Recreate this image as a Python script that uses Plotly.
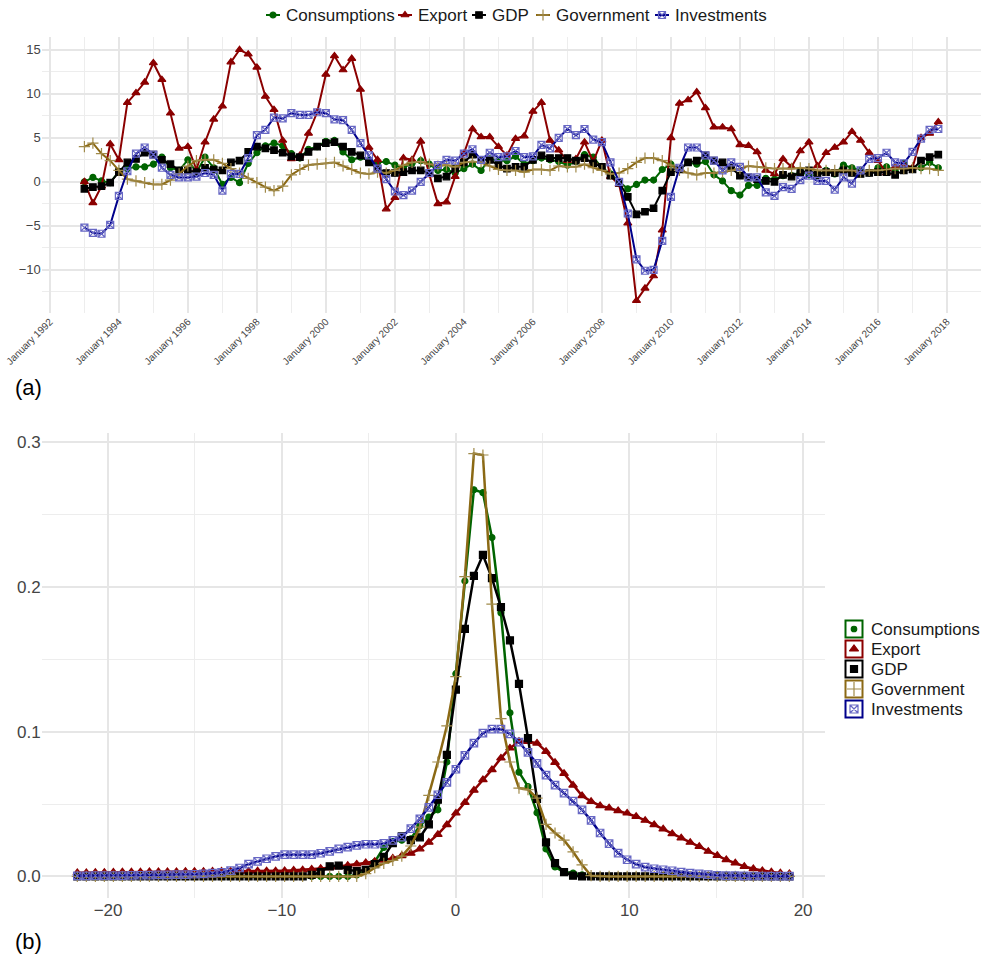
import numpy as np
import pandas as pd
import plotly.graph_objects as go

W, H = 983, 957

# ---------------------------------------------------------------- data
series_names = ["Consumptions", "Export", "GDP", "Government", "Investments"]

# quarterly growth rates (%), 1993Q1 .. 2017Q4
quarters = pd.date_range("1993-01-01", periods=100, freq="QS")

consumptions = [
    0.0, 0.5, 0.1, -0.1, 1.2, 1.5, 1.7, 1.7, 2.0, 2.8,
    1.6, 1.3, 2.5, 1.1, 2.8, 1.6, -0.3, 0.5, -0.1, 2.1,
    3.3, 4.1, 4.4, 4.1, 3.2, 2.7, 3.7, 4.0, 4.6, 4.7,
    3.4, 2.5, 2.8, 2.4, 2.2, 2.3, 1.9, 1.6, 2.1, 2.4,
    2.0, 1.3, 1.4, 1.0, 1.5, 2.0, 1.3, 2.6, 2.4, 2.4,
    2.9, 2.0, 2.4, 2.7, 2.5, 2.3, 1.9, 2.3, 3.1, 2.8,
    1.6, 0.9, 0.0, -0.8, -0.3, 0.2, 0.2, 1.4, 2.0, 1.4,
    2.2, 2.0, 2.3, 0.8, 0.1, -1.0, -1.5, -0.4, -0.4, 0.4,
    0.3, 0.7, 0.7, 1.1, 0.8, 0.7, 1.3, 0.9, 1.9, 1.6,
    1.3, 1.0, 1.6, 1.7, 1.3, 2.1, 1.5, 1.6, 2.2, 1.6,
]
export = [
    0.0, -2.4, -0.5, 4.3, 2.5, 9.0, 10.1, 11.3, 13.5, 11.6,
    7.8, 3.8, 4.0, 1.4, 4.5, 7.1, 8.6, 13.6, 15.0, 14.5,
    13.0, 9.7, 8.2, 4.7, 2.6, 3.0, 5.5, 7.9, 12.2, 14.3,
    12.7, 14.0, 10.5, 3.9, 2.5, -3.1, -1.8, 2.7, 2.5, 4.6,
    0.8, -2.5, -2.3, 0.6, 3.2, 6.0, 5.1, 5.1, 4.0, 3.0,
    4.9, 5.2, 8.0, 9.0, 4.7, 3.6, 2.4, 2.6, 4.5, 2.3,
    4.7, 0.6, -0.3, -4.7, -13.5, -12.1, -10.7, -5.5, 5.0, 8.9,
    9.3, 10.2, 8.4, 6.2, 6.2, 6.0, 4.2, 4.1, 3.4, 1.3,
    0.9, 2.6, 1.7, 3.5, 4.5, 1.8, 3.3, 3.9, 4.5, 5.7,
    4.7, 3.3, 2.4, 1.0, 1.7, 1.9, 1.6, 5.0, 5.5, 6.8,
]
gdp = [
    -0.8, -0.6, -0.5, -0.1, 1.1, 2.2, 2.6, 3.3, 3.1, 2.5,
    2.0, 1.3, 1.3, 1.1, 1.6, 1.4, 1.3, 2.2, 2.4, 3.4,
    4.0, 3.8, 3.6, 3.3, 2.9, 2.8, 3.4, 4.0, 4.4, 4.5,
    4.0, 3.4, 3.0, 2.2, 1.5, 1.0, 1.0, 1.1, 1.3, 1.3,
    1.0, 0.4, 0.6, 1.5, 2.2, 3.1, 2.5, 2.5, 1.9, 1.5,
    1.7, 1.7, 2.5, 3.0, 2.7, 2.7, 2.7, 2.4, 2.7, 2.1,
    1.7, 0.7, -0.1, -1.7, -3.7, -3.4, -3.0, -1.0, 1.1, 1.4,
    2.2, 2.4, 3.0, 2.4, 2.2, 1.6, 0.7, 0.5, 0.3, 0.1,
    0.0, 0.8, 0.6, 1.0, 1.3, 0.8, 1.1, 1.0, 1.3, 1.0,
    0.9, 1.0, 1.1, 1.1, 0.8, 1.3, 1.4, 2.4, 2.8, 3.1,
]
government = [
    4.0, 4.4, 3.2, 2.4, 1.3, 0.3, 0.1, -0.1, -0.3, -0.3,
    0.2, 0.9, 1.8, 2.4, 2.5, 2.5, 2.1, 1.5, 1.0, 0.4,
    -0.1, -0.6, -1.0, -0.5, 0.8, 1.4, 1.9, 2.0, 2.1, 2.2,
    1.8, 1.4, 1.0, 0.9, 1.1, 1.0, 1.3, 1.9, 2.2, 2.3,
    2.0, 1.8, 1.9, 1.7, 2.2, 2.3, 2.2, 1.8, 1.4, 1.3,
    1.3, 1.1, 1.4, 1.4, 1.3, 1.8, 1.7, 1.7, 2.0, 1.6,
    1.3, 0.9, 1.0, 1.5, 2.2, 2.7, 2.7, 2.4, 1.9, 1.3,
    1.0, 0.8, 1.0, 1.0, 1.1, 1.3, 1.5, 1.8, 1.7, 1.6,
    1.5, 1.5, 1.5, 1.6, 1.5, 1.3, 1.3, 1.3, 1.3, 1.3,
    1.1, 1.3, 1.3, 1.4, 1.5, 1.5, 1.6, 1.5, 1.5, 1.3,
]
investments = [
    -5.2, -5.8, -5.9, -4.9, -1.6, 1.2, 3.2, 3.9, 3.1, 1.6,
    0.8, 0.5, 0.5, 0.6, 1.0, 0.8, -1.0, 0.9, 0.9, 2.7,
    5.3, 5.9, 7.3, 7.2, 7.8, 7.6, 7.6, 7.9, 7.8, 7.1,
    7.0, 5.9, 4.4, 3.0, 1.5, 0.3, -1.1, -1.5, -1.0, 0.0,
    1.0, 1.9, 2.5, 2.4, 3.2, 3.7, 2.5, 3.3, 2.8, 2.9,
    3.5, 2.8, 2.9, 4.2, 3.8, 5.0, 6.0, 5.3, 6.0, 4.8,
    4.5, 2.2, 0.0, -3.6, -8.8, -10.1, -10.0, -6.7, -1.7, 1.6,
    3.9, 3.9, 3.0, 2.4, 1.3, 2.2, 1.7, 0.5, 0.5, -1.2,
    -1.6, -0.6, -0.8, 0.2, 0.7, 0.1, 0.1, -0.9, 0.5, -0.2,
    1.3, 2.6, 2.7, 3.3, 2.2, 2.1, 3.4, 4.9, 5.9, 6.0,
]

# kernel density estimates of the growth rates on a common grid
dens_x = np.linspace(-21.77, 19.21, 80)

dens_consumptions = [0.0] * 31 + [
    0.001, 0.004, 0.010, 0.020, 0.024, 0.025, 0.026, 0.035, 0.041, 0.046,
    0.079, 0.140, 0.204, 0.267, 0.265, 0.234, 0.182, 0.113, 0.072, 0.062,
    0.044, 0.019, 0.0065, 0.003, 0.0023, 0.001,
] + [0.0] * 23
dens_export = [
    0.0025, 0.0026, 0.0027, 0.0028, 0.0029, 0.0030, 0.0030, 0.0031, 0.0032, 0.0032,
    0.0033, 0.0033, 0.0034, 0.0034, 0.0034, 0.0035, 0.0035, 0.0035, 0.0036, 0.0036,
    0.0037, 0.0037, 0.0038, 0.0040, 0.0042, 0.0045, 0.0050, 0.0055, 0.0060, 0.0067,
    0.0075, 0.0085, 0.0095, 0.0103, 0.0112, 0.0125, 0.0143, 0.0160, 0.0190, 0.0236,
    0.0290, 0.0357, 0.0437, 0.0510, 0.0595, 0.0667, 0.0737, 0.0817, 0.0886, 0.0932,
    0.0932, 0.0920, 0.0863, 0.0787, 0.0710, 0.0630, 0.0557, 0.0518, 0.0488, 0.0472,
    0.0453, 0.0437, 0.0414, 0.0387, 0.0357, 0.0327, 0.0295, 0.0265, 0.0235, 0.0207,
    0.0173, 0.0145, 0.0115, 0.0092, 0.0069, 0.0053, 0.0039, 0.0030, 0.0023, 0.0018,
]
dens_gdp = [0.0] * 26 + [
    0.001, 0.003, 0.007, 0.0075, 0.0045, 0.0037, 0.0045, 0.0085, 0.0135, 0.023,
    0.0276, 0.025, 0.027, 0.036, 0.053, 0.084, 0.129, 0.171, 0.2076, 0.222,
    0.206, 0.186, 0.163, 0.133, 0.0955, 0.0536, 0.0235, 0.0092, 0.003, 0.0005,
] + [0.0] * 24
dens_government = [0.0] * 32 + [
    0.002, 0.006, 0.009, 0.011, 0.014, 0.021, 0.034, 0.056, 0.079, 0.104,
    0.138, 0.207, 0.292, 0.291, 0.188, 0.109, 0.079, 0.061, 0.060, 0.054,
    0.036, 0.030, 0.025, 0.017, 0.008, 0.0005,
] + [0.0] * 22
dens_investments = [
    0.0004, 0.0004, 0.0005, 0.0005, 0.0006, 0.0006, 0.0007, 0.0008, 0.0009, 0.0010,
    0.0011, 0.0012, 0.0013, 0.0015, 0.0018, 0.0023, 0.0028, 0.0040, 0.0058, 0.0085,
    0.0104, 0.0122, 0.0138, 0.0150, 0.0150, 0.0150, 0.0150, 0.0160, 0.0173, 0.0190,
    0.0203, 0.0214, 0.0222, 0.0222, 0.0228, 0.0249, 0.0272, 0.0330, 0.0398, 0.0477,
    0.0564, 0.0650, 0.0740, 0.0836, 0.0920, 0.0990, 0.1017, 0.1017, 0.0985, 0.0928,
    0.0856, 0.0780, 0.0700, 0.0630, 0.0575, 0.0520, 0.0460, 0.0387, 0.0300, 0.0226,
    0.0161, 0.0115, 0.0085, 0.0064, 0.0053, 0.0046, 0.0039, 0.0030, 0.0023, 0.0018,
    0.0012, 0.0008, 0.0006, 0.0005, 0.0004, 0.0003, 0.0003, 0.0002, 0.0002, 0.0002,
]

ts_values = [consumptions, export, gdp, government, investments]
dens_values = [dens_consumptions, dens_export, dens_gdp, dens_government, dens_investments]

# ---------------------------------------------------------------- styles
line_colors = ["#006400", "#8B0000", "#000000", "#8B6914", "#00008B"]
marker_colors = ["#006400", "#8B0000", "#000000", "#A08A4A", "#6767C4"]
symbols = ["circle", "triangle-up", "square", "cross-thin-open", "square-x-open"]
sizes_a = [6, 7, 6.5, 8, 7]
sizes_b = [6, 7.5, 7, 8, 7.5]

FONT = "Liberation Sans, Arial, Helvetica, sans-serif"
TICK_COLOR = "#444444"
TEXT_COLOR = "#1A1A1A"
GRID = "#E6E6E6"
GRID_MINOR = "#EDEDED"

# legend layout (pixel positions on the page)
top_key_text_x = [285, 417, 491, 555, 674]
top_key_y = 15
side_key_x, side_key_text_x = 854, 869
side_key_y = [629, 649, 669, 689, 709]


def px_x(p):
    return p / W


def px_y(p):
    return 1 - p / H


fig = go.Figure()

# panel (a): time series
for name, vals, lc, mc, sym, sz in zip(series_names, ts_values, line_colors,
                                       marker_colors, symbols, sizes_a):
    fig.add_trace(go.Scatter(
        x=quarters, y=vals, name=name, mode="lines+markers",
        line=dict(color=lc, width=2),
        marker=dict(symbol=sym, size=sz, color=mc, line=dict(width=1.2, color=mc)),
        xaxis="x", yaxis="y", showlegend=False,
    ))

# panel (b): densities
for name, vals, lc, mc, sym, sz in zip(series_names, dens_values, line_colors,
                                       marker_colors, symbols, sizes_b):
    fig.add_trace(go.Scatter(
        x=dens_x, y=vals, name=name, mode="lines+markers",
        line=dict(color=lc, width=2.5),
        marker=dict(symbol=sym, size=sz, color=mc, line=dict(width=1.2, color=mc)),
        xaxis="x2", yaxis="y2", showlegend=False,
    ))

# legends, drawn on a page-sized helper axis measured in pixels
solid = ("circle", "triangle-up", "square")
for i, (name, lc, mc, sym) in enumerate(zip(series_names, line_colors,
                                            marker_colors, symbols)):
    key_color = lc if sym in solid else mc
    # top legend: short line with the marker
    cx = top_key_text_x[i] - 12
    fig.add_trace(go.Scatter(
        x=[cx - 7, cx + 7], y=[top_key_y, top_key_y], mode="lines",
        line=dict(color=lc, width=2), showlegend=False, hoverinfo="skip",
        xaxis="x3", yaxis="y3",
    ))
    fig.add_trace(go.Scatter(
        x=[cx], y=[top_key_y], mode="markers", showlegend=False, hoverinfo="skip",
        marker=dict(symbol=sym, size=[6, 7, 6.5, 8, 7][i], color=key_color,
                    line=dict(width=1.2, color=mc)),
        xaxis="x3", yaxis="y3",
    ))
    fig.add_annotation(text=name, xref="x3", yref="y3", x=top_key_text_x[i] - 1,
                       y=top_key_y, xanchor="left", yanchor="middle", showarrow=False,
                       font=dict(family=FONT, size=17, color=TEXT_COLOR))
    # side legend: boxed key
    ky = side_key_y[i]
    fig.add_trace(go.Scatter(
        x=[side_key_x], y=[ky], mode="markers", showlegend=False, hoverinfo="skip",
        marker=dict(symbol=sym, size=[5.5, 8, 7, 10, 8][i], color=key_color,
                    line=dict(width=1.2, color=mc)),
        xaxis="x3", yaxis="y3",
    ))
    fig.add_shape(type="rect", xref="x3", yref="y3",
                  x0=side_key_x - 8.5, x1=side_key_x + 8.5, y0=ky - 8.5, y1=ky + 8.5,
                  line=dict(color=lc, width=2), fillcolor="rgba(0,0,0,0)")
    fig.add_annotation(text=name, xref="x3", yref="y3", x=side_key_text_x, y=ky,
                       xanchor="left", yanchor="middle", showarrow=False,
                       font=dict(family=FONT, size=17, color=TEXT_COLOR))

axis_common = dict(showline=False, zeroline=False, ticks="", automargin=False,
                   showgrid=True, gridcolor=GRID, gridwidth=1.5)

fig.update_layout(
    template="none",
    width=W, height=H,
    margin=dict(l=0, r=0, t=0, b=0, pad=0),
    paper_bgcolor="white", plot_bgcolor="rgba(0,0,0,0)",
    font=dict(family=FONT, color=TEXT_COLOR),
    showlegend=False,
    xaxis=dict(
        domain=[px_x(41.7), px_x(981)], anchor="y",
        type="date", range=["1991-10-07", "2018-12-27"],
        tick0="1992-01-01", dtick="M24", tickformat="%B %Y", tickangle=-45,
        minor=dict(showgrid=True, dtick="M12", tick0="1992-01-01",
                   gridcolor=GRID_MINOR, gridwidth=1.2),
        tickfont=dict(family=FONT, size=10, color=TICK_COLOR),
        **axis_common,
    ),
    yaxis=dict(
        domain=[px_y(313), px_y(37)], anchor="x",
        range=[-14.9, 16.45], tickvals=[-10, -5, 0, 5, 10, 15],
        ticktext=["\u221210", "\u22125", "0", "5", "10", "15"],
        minor=dict(showgrid=True, dtick=2.5, tick0=0, gridcolor=GRID_MINOR, gridwidth=1.2),
        tickfont=dict(family=FONT, size=13, color=TICK_COLOR),
        **axis_common,
    ),
    xaxis2=dict(
        domain=[px_x(41.7), px_x(825)], anchor="y2",
        range=[-23.82, 21.26], tickvals=[-20, -10, 0, 10, 20],
        ticktext=["\u221220", "\u221210", "0", "10", "20"],
        minor=dict(showgrid=True, dtick=5, tick0=0, gridcolor=GRID_MINOR, gridwidth=1.2),
        tickfont=dict(family=FONT, size=17, color=TICK_COLOR),
        **axis_common,
    ),
    yaxis2=dict(
        domain=[px_y(898), px_y(433)], anchor="x2",
        range=[-0.0149, 0.3062], tickvals=[0, 0.1, 0.2, 0.3],
        ticktext=["0.0", "0.1", "0.2", "0.3"],
        minor=dict(showgrid=True, dtick=0.05, tick0=0, gridcolor=GRID_MINOR, gridwidth=1.2),
        tickfont=dict(family=FONT, size=17, color=TICK_COLOR),
        **axis_common,
    ),
    xaxis3=dict(domain=[0, 1], anchor="y3", range=[0, W], visible=False,
                fixedrange=True, automargin=False),
    yaxis3=dict(domain=[0, 1], anchor="x3", range=[H, 0], visible=False,
                fixedrange=True, automargin=False),
)

fig.add_annotation(text="(a)", xref="paper", yref="paper", x=px_x(13), y=px_y(387),
                   xanchor="left", yanchor="middle", showarrow=False,
                   font=dict(family=FONT, size=22, color="#000000"))
fig.add_annotation(text="(b)", xref="paper", yref="paper", x=px_x(13), y=px_y(941),
                   xanchor="left", yanchor="middle", showarrow=False,
                   font=dict(family=FONT, size=22, color="#000000"))

fig.write_html("out.html")
